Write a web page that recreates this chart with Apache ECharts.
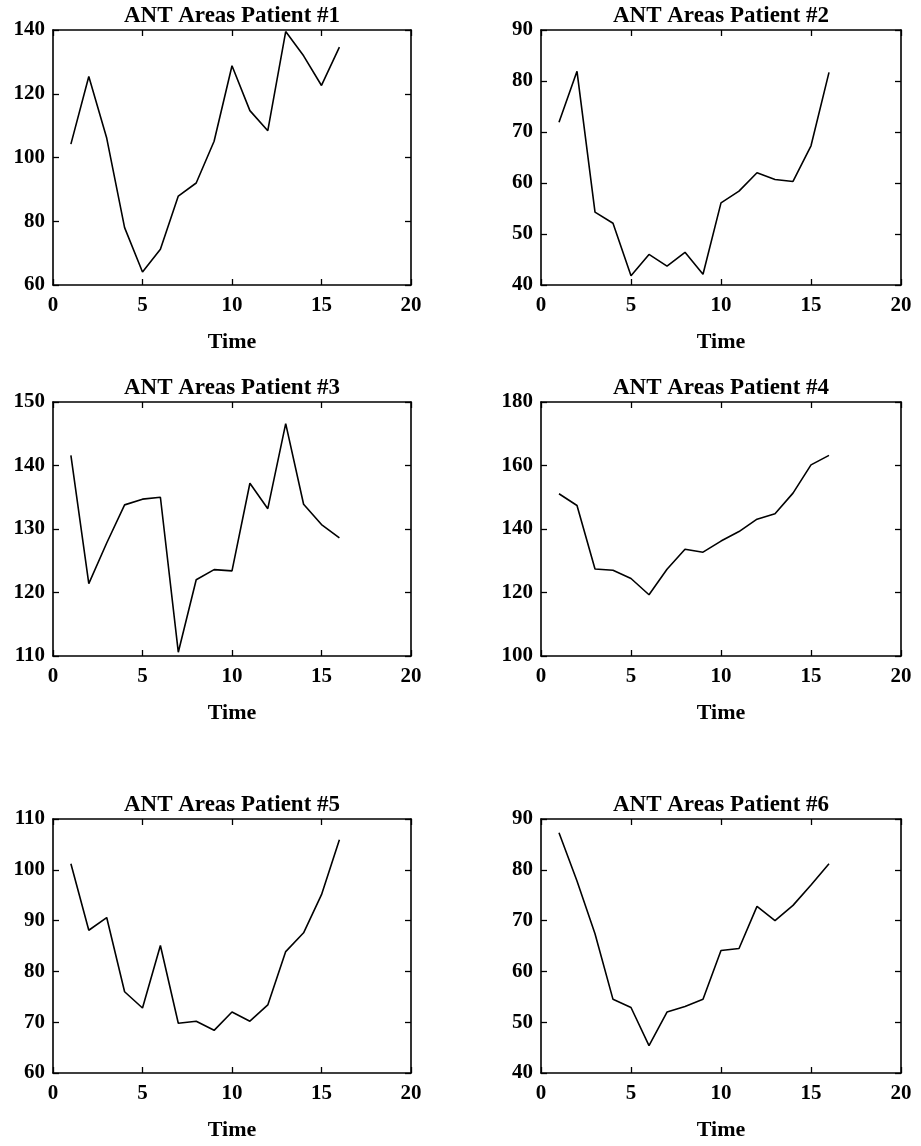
<!DOCTYPE html>
<html>
<head>
<meta charset="utf-8">
<script src="https://cdn.jsdelivr.net/npm/echarts@6/dist/echarts.min.js"></script>
<style>
  html, body {margin: 0; padding: 0; background: #fff;}
  #chart {width: 921px; height: 1146px;}
</style>
</head>
<body>
<div id="chart"></div>
<script>
// ANT areas over time, one panel per patient (2 x 3 layout).

const times = [1, 2, 3, 4, 5, 6, 7, 8, 9, 10, 11, 12, 13, 14, 15, 16]

const patient1 = [104.2, 125.4, 106.1, 78.0, 64.1, 71.2, 87.9, 92.0, 105.1, 128.8, 114.7, 108.4, 139.5, 131.9, 122.6, 134.6]
const patient2 = [71.9, 81.9, 54.3, 52.1, 41.8, 46.0, 43.7, 46.4, 42.1, 56.1, 58.4, 62.0, 60.7, 60.3, 67.3, 81.7]
const patient3 = [141.6, 121.4, 127.8, 133.8, 134.7, 135.0, 110.6, 122.0, 123.6, 123.4, 137.2, 133.2, 146.6, 133.9, 130.7, 128.6]
const patient4 = [151.1, 147.4, 127.4, 127.0, 124.4, 119.3, 127.3, 133.6, 132.7, 136.2, 139.2, 143.1, 144.8, 151.3, 160.2, 163.2]
const patient5 = [101.2, 88.1, 90.6, 76.0, 72.8, 85.1, 69.8, 70.2, 68.4, 72.0, 70.2, 73.4, 83.9, 87.6, 95.1, 105.9]
const patient6 = [87.3, 77.8, 67.4, 54.5, 52.9, 45.4, 52.0, 53.1, 54.5, 64.1, 64.5, 72.8, 70.0, 73.0, 77.0, 81.2]

const titles = ["ANT Areas Patient #1", "ANT Areas Patient #2", "ANT Areas Patient #3",
  "ANT Areas Patient #4", "ANT Areas Patient #5", "ANT Areas Patient #6"]
const yMins = [60, 40, 110, 100, 60, 40]
const yMaxs = [140, 90, 150, 180, 110, 90]
const yIntervals = [20, 10, 10, 20, 10, 10]
const xMin = 0
const xMax = 20
const xInterval = 5
const xName = "Time"

const panels = [patient1, patient2, patient3, patient4, patient5, patient6]

// plot boxes [left, top, width, height]
const boxes = [
  [53, 30, 358, 255],
  [541, 30, 360, 255],
  [53, 402, 358, 254],
  [541, 402, 360, 254],
  [53, 819, 358, 254],
  [541, 819, 360, 254],
]

const FONT = "'Liberation Serif', 'Times New Roman', serif"
const INK = "#000"

const lineStyle = {color: INK, width: 1.6}
const tickStyle = {show: true, inside: true, length: 6, lineStyle: {color: INK, width: 1.3}}

const grid = []
const xAxis = []
const yAxis = []
const series = []
const title = []

boxes.forEach(([left, top, width, height], i) => {
  grid.push({left, top, width, height, containLabel: false})

  title.push({
    text: titles[i],
    left: left + width / 2,
    top: top - 25,
    padding: 0,
    textAlign: "center",
    textStyle: {fontFamily: FONT, fontSize: 23, fontWeight: "bold", color: INK},
  })

  // bottom axis with labels, top axis mirrored for the box and inner ticks
  xAxis.push({
    gridIndex: i,
    type: "value",
    position: "bottom",
    min: xMin,
    max: xMax,
    interval: xInterval,
    name: xName,
    nameLocation: "middle",
    nameGap: 46,
    nameTextStyle: {fontFamily: FONT, fontSize: 22, fontWeight: "bold", color: INK},
    axisLine: {show: true, onZero: false, lineStyle},
    axisTick: tickStyle,
    axisLabel: {fontFamily: FONT, fontSize: 21, fontWeight: "bold", color: INK, margin: 10},
    splitLine: {show: false},
  })
  xAxis.push({
    gridIndex: i,
    type: "value",
    position: "top",
    min: xMin,
    max: xMax,
    interval: xInterval,
    axisLine: {show: true, onZero: false, lineStyle},
    axisTick: tickStyle,
    axisLabel: {show: false},
    splitLine: {show: false},
  })

  yAxis.push({
    gridIndex: i,
    type: "value",
    position: "left",
    min: yMins[i],
    max: yMaxs[i],
    interval: yIntervals[i],
    axisLine: {show: true, onZero: false, lineStyle},
    axisTick: tickStyle,
    axisLabel: {fontFamily: FONT, fontSize: 21, fontWeight: "bold", color: INK, margin: 8},
    splitLine: {show: false},
  })
  yAxis.push({
    gridIndex: i,
    type: "value",
    position: "right",
    min: yMins[i],
    max: yMaxs[i],
    interval: yIntervals[i],
    axisLine: {show: true, onZero: false, lineStyle},
    axisTick: tickStyle,
    axisLabel: {show: false},
    splitLine: {show: false},
  })

  series.push({
    type: "line",
    xAxisIndex: i * 2,
    yAxisIndex: i * 2,
    data: times.map((t, k) => [t, panels[i][k]]),
    symbol: "none",
    smooth: false,
    lineStyle: {color: INK, width: 1.6},
  })
})

const chart = echarts.init(document.getElementById("chart"), null, {renderer: "canvas"})
chart.setOption({
  backgroundColor: "#fff",
  animation: false,
  title,
  grid,
  xAxis,
  yAxis,
  series,
})
</script>
</body>
</html>
